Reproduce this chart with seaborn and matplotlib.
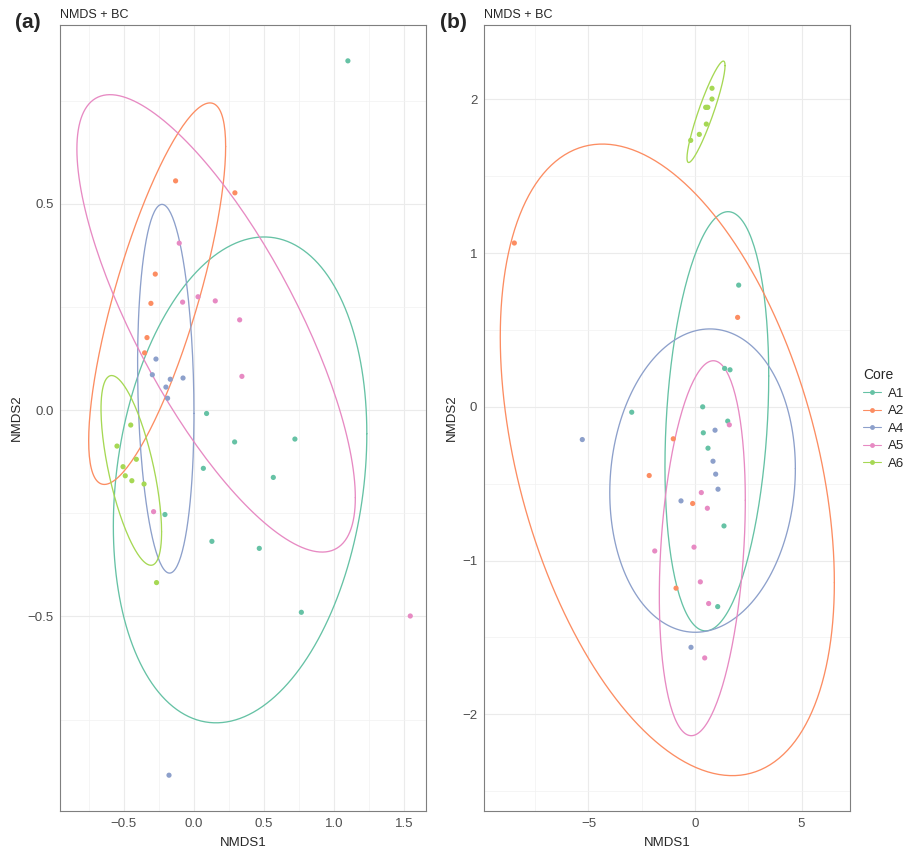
import numpy as np
import pandas as pd
import matplotlib
matplotlib.use("Agg")
import matplotlib.pyplot as plt
from matplotlib.lines import Line2D
import seaborn as sns

# ---- data ----
cores = ["A1", "A2", "A4", "A5", "A6"]
palette = {"A1": "#66C2A5", "A2": "#FC8D62", "A4": "#8DA0CB", "A5": "#E78AC3", "A6": "#A6D854"}

# panel (a)
a_x = {
    "A1": [1.098, 0.090, 0.290, 0.720, 0.067, 0.566, -0.207, 0.128, 0.466, 0.766],
    "A2": [-0.131, 0.292, -0.276, -0.307, -0.335, -0.352],
    "A4": [-0.271, -0.297, -0.169, -0.078, -0.200, -0.188, -0.178],
    "A5": [-0.105, -0.081, 0.029, 0.152, 0.326, 0.342, -0.288, 1.543],
    "A6": [-0.451, -0.549, -0.411, -0.506, -0.490, -0.443, -0.356, -0.267],
}
a_y = {
    "A1": [0.847, -0.008, -0.077, -0.070, -0.141, -0.163, -0.253, -0.318, -0.335, -0.490],
    "A2": [0.556, 0.527, 0.330, 0.259, 0.176, 0.139],
    "A4": [0.124, 0.086, 0.075, 0.078, 0.056, 0.029, -0.885],
    "A5": [0.405, 0.262, 0.275, 0.265, 0.219, 0.082, -0.246, -0.499],
    "A6": [-0.036, -0.087, -0.119, -0.137, -0.159, -0.171, -0.179, -0.418],
}
# ellipse: centre x, centre y, half x-extent, half y-extent, correlation
a_ell = {
    "A1": (0.329, -0.169, 0.904, 0.589, 0.19),
    "A2": (-0.2625, 0.2825, 0.4885, 0.4625, 0.771),
    "A4": (-0.201, 0.052, 0.201, 0.447, -0.134),
    "A5": (0.158, 0.2105, 0.993, 0.5545, -0.762),
    "A6": (-0.447, -0.146, 0.216, 0.230, -0.648),
}

# panel (b)
b_x = {
    "A1": [2.05, 1.39, 1.643, 0.36, -2.97, 1.535, 0.39, 0.61, 1.36, 1.065],
    "A2": [-8.48, 2.0, -1.02, -2.15, -0.11, -0.89],
    "A4": [-5.29, 0.94, 0.845, 0.97, 1.08, -0.657, -0.188],
    "A5": [1.61, 0.296, 0.58, -1.89, -0.047, 0.25, 0.64, 0.455],
    "A6": [0.798, 0.798, 0.50, 0.60, 0.55, 0.531, 0.202, -0.202],
}
b_y = {
    "A1": [0.792, 0.25, 0.241, 0.0, -0.035, -0.093, -0.169, -0.269, -0.775, -1.30],
    "A2": [1.066, 0.582, -0.208, -0.447, -0.629, -1.18],
    "A4": [-0.213, -0.152, -0.354, -0.438, -0.536, -0.612, -1.565],
    "A5": [-0.117, -0.558, -0.66, -0.938, -0.913, -1.139, -1.28, -1.634],
    "A6": [2.073, 2.003, 1.949, 1.949, 1.949, 1.840, 1.773, 1.734],
}
b_ell = {
    "A1": (1.025, -0.094, 2.435, 1.364, 0.216),
    "A2": (-1.30, -0.345, 7.84, 2.055, -0.389),
    "A4": (0.355, -0.48, 4.355, 0.987, 0.079),
    "A5": (0.343, -0.92, 2.018, 1.22, 0.256),
    "A6": (0.517, 1.92, 0.893, 0.33, 0.91),
}


def to_frame(xs, ys):
    rows = []
    for c in cores:
        for x, y in zip(xs[c], ys[c]):
            rows.append({"NMDS1": x, "NMDS2": y, "Core": c})
    return pd.DataFrame(rows)


def ellipse_path(cx, cy, rx, ry, rho):
    t = np.linspace(0, 2 * np.pi, 181)
    phi = np.arccos(rho)
    return cx + rx * np.cos(t), cy + ry * np.cos(t - phi)


def fmt(v):
    return f"{v:g}".replace("-", "\u2212")


def draw_panel(ax, df, ell, xlim, ylim, xmaj, xmin, ymaj, ymin, xlabels=None, ylabels=None):
    ax.set_facecolor("white")
    for v in xmin:
        ax.axvline(v, color="#F2F2F2", lw=0.5, zorder=0)
    for v in xmaj:
        ax.axvline(v, color="#EBEBEB", lw=0.8, zorder=0)
    for v in ymin:
        ax.axhline(v, color="#F2F2F2", lw=0.5, zorder=0)
    for v in ymaj:
        ax.axhline(v, color="#EBEBEB", lw=0.8, zorder=0)

    # confidence ellipses
    for c in cores:
        ex, ey = ellipse_path(*ell[c])
        ax.plot(ex, ey, color=palette[c], lw=0.95, zorder=2)

    sns.scatterplot(data=df, x="NMDS1", y="NMDS2", hue="Core", palette=palette,
                    hue_order=cores, s=14, linewidth=0, ax=ax, legend=False, zorder=3)

    ax.set_xlim(xlim)
    ax.set_ylim(ylim)
    ax.set_xticks(xmaj)
    ax.set_yticks(ymaj)
    ax.set_xticklabels(xlabels or [fmt(v) for v in xmaj])
    ax.set_yticklabels(ylabels or [fmt(v) for v in ymaj])
    ax.tick_params(axis="both", colors="#7F7F7F", labelcolor="#4D4D4D",
                   labelsize=9.5, length=3, width=0.6, pad=2)
    for sp in ax.spines.values():
        sp.set_color("#7F7F7F")
        sp.set_linewidth(0.8)
    ax.set_xlabel("NMDS1", fontsize=9.5, labelpad=5)
    ax.set_ylabel("NMDS2", fontsize=9.5, labelpad=3)
    ax.set_title("NMDS + BC", loc="left", fontsize=9, pad=5)


sns.set_theme(style="white")
plt.rcParams["font.family"] = ["Liberation Sans", "DejaVu Sans"]

fig = plt.figure(figsize=(9.11, 8.52), dpi=100)
ax_a = fig.add_axes([0.0664, 0.0485, 0.4012, 0.9222])
ax_b = fig.add_axes([0.5316, 0.0485, 0.4018, 0.9222])

draw_panel(ax_a, to_frame(a_x, a_y), a_ell,
           (-0.952, 1.655), (-0.971, 0.934),
           [-0.5, 0.0, 0.5, 1.0, 1.5], [-0.75, -0.25, 0.25, 0.75, 1.25],
           [-0.5, 0.0, 0.5], [-0.75, -0.25, 0.25, 0.75],
           xlabels=["\u22120.5", "0.0", "0.5", "1.0", "1.5"],
           ylabels=["\u22120.5", "0.0", "0.5"])

draw_panel(ax_b, to_frame(b_x, b_y), b_ell,
           (-9.89, 7.29), (-2.628, 2.485),
           [-5, 0, 5], [-7.5, -2.5, 2.5],
           [-2, -1, 0, 1, 2], [-2.5, -1.5, -0.5, 0.5, 1.5])

fig.text(15 / 911, 1 - 22 / 852, "(a)", fontsize=15, fontweight="bold", va="center", ha="left")
fig.text(440 / 911, 1 - 22 / 852, "(b)", fontsize=15, fontweight="bold", va="center", ha="left")

handles = [Line2D([0], [0], color=palette[c], lw=0.8, marker="o", markersize=3.5,
                  markeredgewidth=0) for c in cores]
leg = fig.legend(handles, cores, title="Core", loc="center left",
                 bbox_to_anchor=(851 / 911, 1 - 419 / 852), frameon=False,
                 fontsize=9.5, title_fontsize=10, handlelength=1.4,
                 handletextpad=0.5, labelspacing=0.4, alignment="left")

fig.savefig("out.png", dpi=100)
